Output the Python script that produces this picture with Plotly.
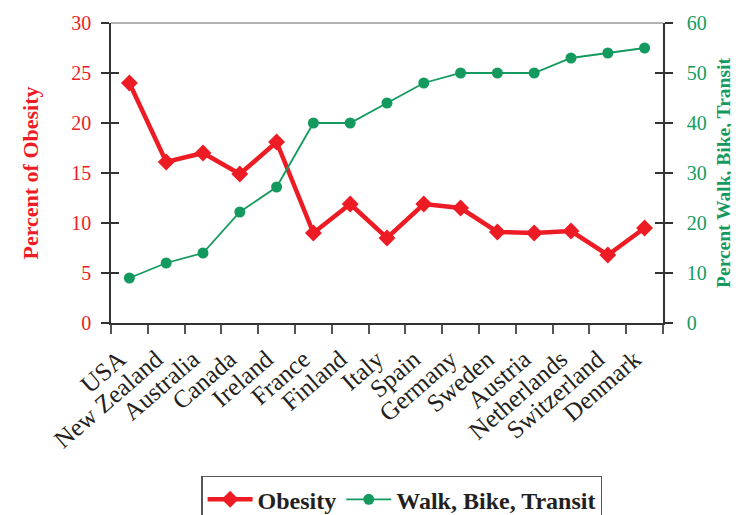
import plotly.graph_objects as go

countries = ["USA", "New Zealand", "Australia", "Canada", "Ireland", "France", "Finland",
             "Italy", "Spain", "Germany", "Sweden", "Austria", "Netherlands", "Switzerland", "Denmark"]
obesity = [24.0, 16.1, 17.0, 14.9, 18.1, 9.0, 11.9, 8.5, 11.9, 11.5, 9.1, 9.0, 9.2, 6.8, 9.5]
walk_bike_transit = [9.0, 12.0, 14.0, 22.2, 27.2, 40.0, 40.0, 44.0, 48.0, 50.0, 50.0, 50.0, 53.0, 54.0, 55.0]
left_ticks = [0, 5, 10, 15, 20, 25, 30]
right_ticks = [0, 10, 20, 30, 40, 50, 60]

RED = "#ED1C24"
GREEN = "#149A5E"
FONT = "Liberation Serif"
AX = "#333333"

fig = go.Figure()
fig.add_trace(go.Scatter(
    x=countries, y=obesity, name="Obesity", mode="lines+markers",
    line=dict(color=RED, width=4.5),
    marker=dict(symbol="diamond", size=13, color=RED),
    yaxis="y",
))
fig.add_trace(go.Scatter(
    x=countries, y=walk_bike_transit, name="Walk, Bike, Transit", mode="lines+markers",
    line=dict(color=GREEN, width=1.8),
    marker=dict(symbol="circle", size=11, color=GREEN),
    yaxis="y2",
))
# invisible helper traces so the inner tick marks (crossing ticks) are drawn
fig.add_trace(go.Scatter(x=countries, y=obesity, yaxis="y3", mode="lines",
                         line=dict(width=0), opacity=0, showlegend=False, hoverinfo="skip"))
fig.add_trace(go.Scatter(x=countries, y=walk_bike_transit, yaxis="y4", mode="lines",
                         line=dict(width=0), opacity=0, showlegend=False, hoverinfo="skip"))

fig.update_layout(
    width=731, height=507,
    margin=dict(l=103, r=76, t=15, b=192, autoexpand=False),
    plot_bgcolor="white", paper_bgcolor="white",
    font=dict(family=FONT, size=19, color="#231F20"),
    showlegend=True,
    legend=dict(
        orientation="h", x=0.527, xanchor="center", y=-0.51, yanchor="top",
        bordercolor="#555555", borderwidth=1.2,
        font=dict(family=FONT, size=24, color="#231F20", weight="bold"),
        tracegroupgap=0, itemwidth=45,
    ),
    xaxis=dict(
        type="category", tickangle=-41, tickson="boundaries",
        ticks="outside", ticklen=9, tickcolor="#555555", tickwidth=1.5,
        showline=True, linecolor=AX, linewidth=1.5,
        showgrid=False, ticklabelstandoff=10, ticklabelshift=-10, automargin=False,
        tickfont=dict(family=FONT, size=25, color="#231F20"),
        range=[-0.5, 14.5],
    ),
    yaxis=dict(
        range=[0, 30], tickvals=left_ticks, ticks="outside", ticklen=8,
        tickcolor=AX, tickwidth=1.5,
        showline=True, linecolor=AX, linewidth=1.5,
        showgrid=False, zeroline=False, ticklabelstandoff=6, automargin=False,
        tickfont=dict(family=FONT, size=20, color=RED),
        title=dict(text="Percent of Obesity", standoff=27,
                   font=dict(family=FONT, size=22, color=RED, weight="bold")),
    ),
    yaxis2=dict(
        range=[0, 60], tickvals=right_ticks, overlaying="y", side="right",
        ticks="outside", ticklen=8, tickcolor=AX, tickwidth=1.5,
        showline=True, linecolor=AX, linewidth=1.5,
        showgrid=False, zeroline=False, ticklabelstandoff=10, automargin=False,
        tickfont=dict(family=FONT, size=20, color=GREEN),
        title=dict(text="Percent Walk, Bike, Transit", standoff=11,
                   font=dict(family=FONT, size=19.5, color=GREEN, weight="bold")),
    ),
    yaxis3=dict(
        range=[0, 30], tickvals=left_ticks, overlaying="y", side="left",
        ticks="inside", ticklen=8, tickcolor=AX, tickwidth=1.5,
        showticklabels=False, showline=False, showgrid=False, zeroline=False,
        automargin=False,
    ),
    yaxis4=dict(
        range=[0, 60], tickvals=right_ticks, overlaying="y", side="right",
        ticks="inside", ticklen=8, tickcolor=AX, tickwidth=1.5,
        showticklabels=False, showline=False, showgrid=False, zeroline=False,
        automargin=False,
    ),
    shapes=[dict(type="line", xref="paper", yref="paper", x0=0, x1=1, y0=1, y1=1,
                 line=dict(color="#999999", width=1.5))],
)

fig.write_html("out.html")
